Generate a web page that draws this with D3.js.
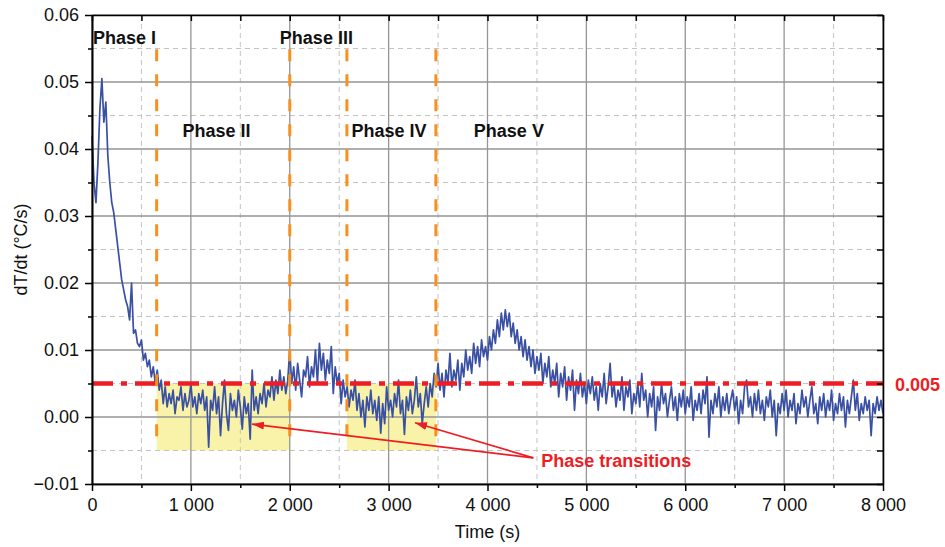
<!DOCTYPE html>
<html>
<head>
<meta charset="utf-8">
<script src="https://cdn.jsdelivr.net/npm/d3@7"></script>
<style>
body { margin: 0; background: #fff; }
svg { display: block; font-family: 'Liberation Sans', Arial, sans-serif; }
</style>
</head>
<body>
<svg id="chart" width="945" height="547"></svg>
<script>
// readings every 20 s, values in 1e-3 °C/s
var sampleStep = 20;
var rateValues = [
    42, 35, 32, 38, 46, 50.5, 44, 47, 39, 35,
    32, 30.5, 28, 25.5, 23, 20.5, 19, 17.5, 16.5, 14.5,
    20, 12.5, 13, 11, 10.5, 11.5, 8.5, 9.5, 7.5, 8.5,
    6, 7.5, 5, 7, 4, 5.5, 2, 4.5, 1.5, 3.5,
    2, 4, 0.5, 3, 2.5, 4.5, 1, 3.5, 1.5, 2.5,
    5, 1.5, 3, 0.5, 3.5, 2, 4, 1, 3, -4.5,
    2.5, 1, 4.5, 0.5, 3, -2.8, 2, 5.5, 0.5, -2,
    3.5, 1, 2.5, 0, 4, 1.5, -1.8, 3, 0.5, 2,
    -3.3, 7, 1, 3, 0.5, 3.5, 2, 5, 1.5, 4,
    3, 6, 2.5, 5.5, 3.5, 7, 4, 6, 3.5, 5.5,
    10, 5, 7.5, 4, 8, 5.5, 3, 7, 6, 9,
    4.5, 7.5, 6, 10, 5, 11, 7, 9.5, 5.5, 8.5,
    6.5, 10.5, 3.5, 7.5, 5, 6.5, 2, 5.5, 3, 4.5,
    1.5, 4, 2.5, 5.5, 1, 3.5, 0, 2.5, -1.5, 3,
    1, 4, 0.5, 2.5, -0.5, 3, -2.4, 2, -1, 4.5,
    1, 2.5, 0, 3.5, 1.5, 5.5, 0.5, 2.5, -2.6, 3,
    1, 4, 0.5, 2.5, 6, 1.5, 3.5, -1, 2, 4.5,
    1.5, 5, 3, 6.5, 4.5, 8, 4, 6.5, 3, 7,
    5, 9.5, 4.5, 7, 5.5, 8.5, 4, 8, 6, 10,
    7, 9, 6.5, 11, 8, 10.5, 7.5, 11.5, 9, 10.5,
    8.5, 12, 10, 13, 11, 14.5, 12, 15.5, 13, 16,
    13.5, 15.5, 12, 14, 11, 13, 10, 12, 9, 11.5,
    8.5, 10.5, 7.5, 10, 6.5, 9, 7, 9.5, 5, 8,
    6, 9, 4.5, 7, 5, 8, 3, 6.5, 4.5, 7.5,
    2.5, 6, 4, 7, 1, 5.5, 3.5, 6.5, 3, 5,
    2, 5.5, 3.5, 6, 2.5, 4.5, 1, 5, 3, 6.5,
    2, 4.5, 8, 3, 5, 1.5, 4, 2.5, 6, 1,
    4.5, 3, 5.5, 0.5, 3.5, 2, 5, 1.5, 6.5, 2.5,
    4, 0, 3.5, 1.5, 4.5, -2, 3, 1, 5, 2,
    3.5, 0, 2.5, 4.5, 1, 3, -0.5, 3.5, 1.5, 4,
    0.5, 3, 1.5, 4.5, -0.5, 2.5, 1, 3.5, 0.5, 4,
    2, 6, -3, 2.5, 0.5, 3.5, 1.5, 4.5, 0, 3,
    1, 3.5, 0.5, 2.5, 4, 1, 3, -1, 2.5, 0.5,
    4.5, 5.5, 1.5, 3, 0, 3.5, 1, 4, 0.5, 2.5,
    -0.5, 3, 1.5, 4, 0, 2.5, -2.8, 2, 0.5, 3.5,
    1, 4, 0, 2.5, 1, 3.5, -1, 2, 0.5, 4,
    1.5, 3, 0, 2.5, 4.5, 0.5, 2, -1, 3, 1,
    3.5, 0, 2.5, 1, 4, -0.5, 2, 0.5, 3.5, 1,
    3, -1.5, 2.5, 0.5, 3, 5.5, 1, 3.5, -0.5, 2,
    0.5, 3, 1, 2.5, -2.8, 2, 0.5, 3, 1, 2.5,
    0.5
];

var phaseBounds = [654, 2000, 2578, 3478];
var shadedSpans = [[654, 2000], [2578, 3478]];
var threshold = 0.005;

var xMajorTicks = [0, 1000, 2000, 3000, 4000, 5000, 6000, 7000, 8000];
var xMinorTicks = [500, 1500, 2500, 3500, 4500, 5500, 6500, 7500];
var yMajorTicks = [-0.01, 0, 0.01, 0.02, 0.03, 0.04, 0.05, 0.06];
var yMinorTicks = [-0.005, 0.005, 0.015, 0.025, 0.035, 0.045, 0.055];

var phaseNames = ['Phase I', 'Phase II', 'Phase III', 'Phase IV', 'Phase V'];
var phaseLabelTime = [10, 915, 1900, 2624, 3862];
var phaseLabelRate = [0.0557, 0.0418, 0.0557, 0.0418, 0.0418];

var arrowTail = [4463, -0.0061];
var arrowTips = [[1618, -0.00107], [3267, -0.00085]];

var svg = d3.select('svg#chart');
var margin = {top: 15, right: 62, bottom: 63, left: 92};
var width = 945 - margin.left - margin.right;
var height = 547 - margin.top - margin.bottom;

var x = d3.scaleLinear().domain([0, 8000]).range([0, width]);
var y = d3.scaleLinear().domain([-0.01, 0.06]).range([height, 0]);

var data = rateValues.map(function (v, i) {
    return {t: i * sampleStep, rate: v / 1000};
});

var g = svg.append('g')
    .attr('transform', 'translate(' + margin.left + ',' + margin.top + ')');

// shaded areas
g.selectAll('rect.span')
    .data(shadedSpans)
    .enter().append('rect')
    .attr('class', 'span')
    .attr('x', function (d) { return x(d[0]); })
    .attr('width', function (d) { return x(d[1]) - x(d[0]); })
    .attr('y', y(threshold))
    .attr('height', y(-threshold) - y(threshold))
    .attr('fill', '#f8f3a8');

// grid
var grid = g.append('g').attr('class', 'grid');
grid.selectAll('line.xmin').data(xMinorTicks).enter().append('line')
    .attr('x1', x).attr('x2', x).attr('y1', 0).attr('y2', height)
    .attr('stroke', '#c4c4c4').attr('stroke-dasharray', '5,4');
grid.selectAll('line.ymin').data(yMinorTicks).enter().append('line')
    .attr('y1', y).attr('y2', y).attr('x1', 0).attr('x2', width)
    .attr('stroke', '#c4c4c4').attr('stroke-dasharray', '5,4');
grid.selectAll('line.xmaj').data(xMajorTicks).enter().append('line')
    .attr('x1', x).attr('x2', x).attr('y1', 0).attr('y2', height)
    .attr('stroke', '#959595').attr('stroke-width', 1.3);
grid.selectAll('line.ymaj').data(yMajorTicks).enter().append('line')
    .attr('y1', y).attr('y2', y).attr('x1', 0).attr('x2', width)
    .attr('stroke', '#959595').attr('stroke-width', 1.3);

// signal
var rateLine = d3.line()
    .x(function (d) { return x(d.t); })
    .y(function (d) { return y(d.rate); });

g.append('path')
    .datum(data)
    .attr('fill', 'none')
    .attr('stroke', '#3a50a2')
    .attr('stroke-width', 1.7)
    .attr('stroke-linejoin', 'round')
    .attr('d', rateLine);

// threshold
g.append('line')
    .attr('x1', 0).attr('x2', width)
    .attr('y1', y(threshold)).attr('y2', y(threshold))
    .attr('stroke', '#ee1d24')
    .attr('stroke-width', 4.5)
    .attr('stroke-dasharray', '21,8,6,8');

g.append('text')
    .attr('x', width + 12)
    .attr('y', y(threshold) + 7)
    .attr('fill', '#ee1d24')
    .attr('font-size', 18)
    .attr('font-weight', 'bold')
    .text('0.005');

// phase boundaries
g.selectAll('line.phase')
    .data(phaseBounds)
    .enter().append('line')
    .attr('x1', x).attr('x2', x)
    .attr('y1', y(0.0549)).attr('y2', y(-0.0033))
    .attr('stroke', '#f7901e')
    .attr('stroke-width', 3)
    .attr('stroke-dasharray', '12,13');

g.selectAll('text.phase')
    .data(phaseNames)
    .enter().append('text')
    .attr('x', function (d, i) { return x(phaseLabelTime[i]); })
    .attr('y', function (d, i) { return y(phaseLabelRate[i]); })
    .attr('font-size', 18)
    .attr('font-weight', 'bold')
    .attr('fill', '#111')
    .text(function (d) { return d; });

// arrows
svg.append('defs').append('marker')
    .attr('id', 'head')
    .attr('markerUnits', 'userSpaceOnUse')
    .attr('markerWidth', 13).attr('markerHeight', 8)
    .attr('refX', 12).attr('refY', 4)
    .attr('orient', 'auto')
    .append('path')
    .attr('d', 'M0,0 L12,4 L0,8 Z')
    .attr('fill', '#ee1d24');

g.selectAll('line.arrow')
    .data(arrowTips)
    .enter().append('line')
    .attr('x1', x(arrowTail[0])).attr('y1', y(arrowTail[1]))
    .attr('x2', function (d) { return x(d[0]); })
    .attr('y2', function (d) { return y(d[1]); })
    .attr('stroke', '#ee1d24')
    .attr('stroke-width', 1.7)
    .attr('marker-end', 'url(#head)');

g.append('text')
    .attr('x', x(arrowTail[0]) + 8)
    .attr('y', y(arrowTail[1]) + 9)
    .attr('fill', '#ee1d24')
    .attr('font-size', 18)
    .attr('font-weight', 'bold')
    .text('Phase transitions');

// axes
var fmtX = d3.formatLocale({decimal: '.', thousands: ' ', grouping: [3], currency: ['', '']}).format(',d');
var fmtY = d3.format('.2f');

function styleAxis(sel) {
    sel.select('.domain').attr('stroke', '#000').attr('stroke-width', 1.6);
    sel.selectAll('.tick line').attr('stroke', '#000').attr('stroke-width', 1.5);
    sel.selectAll('.tick text').attr('fill', '#111').attr('font-size', 18)
        .attr('font-family', "'Liberation Sans', Arial, sans-serif");
}

g.append('g').attr('transform', 'translate(0,' + height + ')')
    .call(d3.axisBottom(x).tickValues(xMinorTicks).tickFormat('').tickSize(4).tickSizeOuter(0))
    .call(styleAxis);
g.append('g').attr('transform', 'translate(0,' + height + ')')
    .call(d3.axisBottom(x).tickValues(xMajorTicks).tickFormat(fmtX).tickSize(7).tickPadding(7).tickSizeOuter(0))
    .call(styleAxis);
g.append('g')
    .call(d3.axisLeft(y).tickValues(yMinorTicks).tickFormat('').tickSize(4).tickSizeOuter(0))
    .call(styleAxis);
g.append('g')
    .call(d3.axisLeft(y).tickValues(yMajorTicks).tickFormat(fmtY).tickSize(7).tickPadding(6).tickSizeOuter(0))
    .call(styleAxis);
g.append('g')
    .call(d3.axisTop(x).tickValues(xMajorTicks.concat(xMinorTicks)).tickFormat('').tickSize(-6).tickSizeOuter(0))
    .call(styleAxis);
g.append('g').attr('transform', 'translate(' + width + ',0)')
    .call(d3.axisRight(y).tickValues(yMajorTicks.concat(yMinorTicks)).tickFormat('').tickSize(-6).tickSizeOuter(0))
    .call(styleAxis);

// titles
svg.append('text')
    .attr('x', margin.left + width / 2)
    .attr('y', 538)
    .attr('text-anchor', 'middle')
    .attr('font-size', 18)
    .attr('fill', '#111')
    .text('Time (s)');

svg.append('text')
    .attr('transform', 'translate(27,' + (margin.top + height / 2) + ') rotate(-90)')
    .attr('text-anchor', 'middle')
    .attr('font-size', 18)
    .attr('fill', '#111')
    .text('dT/dt (°C/s)');
</script>
</body>
</html>
